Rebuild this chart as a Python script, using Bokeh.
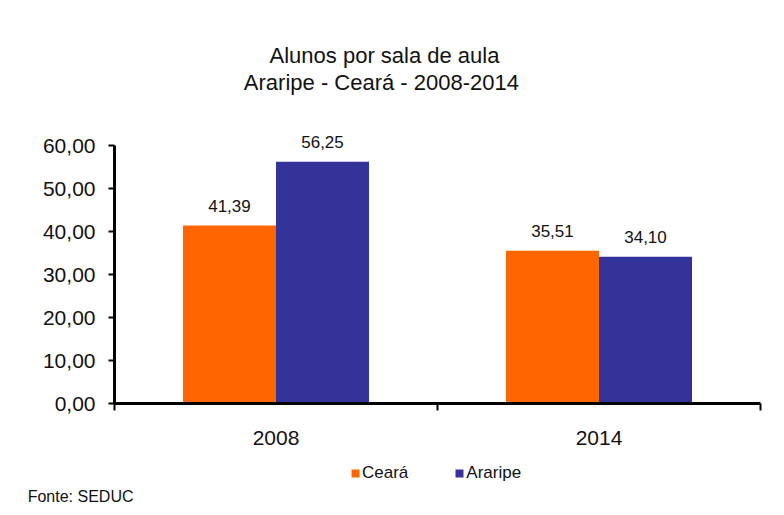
from bokeh.plotting import figure
from bokeh.layouts import column
from bokeh.models import (Range1d, FixedTicker, ColumnDataSource, LinearAxis,
                          LabelSet, Label, Legend, LegendItem)
from bokeh.core.properties import value
from bokeh.transform import dodge
from bokeh.embed import file_html
from bokeh.resources import INLINE

# ---- data ----
years = ["2008", "2014"]
series = ["Ceará", "Araripe"]
ceara = [41.39, 35.51]
araripe = [56.25, 34.10]
colors = ["#FF6600", "#333399"]
y_ticks = [0, 10, 20, 30, 40, 50, 60]
title_lines = ["Alunos por sala de aula", "Araripe  - Ceará - 2008-2014"]
source_note = "Fonte: SEDUC"

FONT = "Liberation Sans"
TXT = "#111111"
W = 784
H1, H2 = 460, 55                    # main chart / footer heights
ML, MR = 114, 24
Y0_PX, Y60_PX = 403, 145            # canvas y of value 0 and 60
YMAX = 60.0
PX_PER_UNIT = (Y0_PX - Y60_PX) / YMAX
YTOP = YMAX + Y60_PX / PX_PER_UNIT  # frame reaches canvas top
MB = H1 - Y0_PX
NCAT = len(years)
FW = W - ML - MR

def ydata(cy):
    return (Y0_PX - cy) / PX_PER_UNIT

def xdata(cx):
    return (cx - ML) * NCAT / FW

fmt = lambda v: f"{v:.2f}".replace(".", ",")

# category slots: category i occupies [i, i+1]
cat_pos = [i + 0.5 for i in range(NCAT)]

p = figure(width=W, height=H1, x_range=Range1d(0, NCAT),
           y_range=Range1d(0, YTOP), min_border_left=ML, min_border_right=MR,
           min_border_top=0, min_border_bottom=MB, toolbar_location=None,
           output_backend="svg")
p.xgrid.visible = False
p.ygrid.visible = False
p.outline_line_color = None
p.background_fill_color = "white"
p.border_fill_color = "white"

src = ColumnDataSource(dict(pos=cat_pos, year=years, ceara=ceara, araripe=araripe,
                            ceara_lbl=[fmt(v) for v in ceara],
                            araripe_lbl=[fmt(v) for v in araripe]))
bw = 0.288
p.vbar(x=dodge("pos", -bw / 2), top="ceara", width=bw, source=src,
       fill_color=colors[0], line_color=None)
p.vbar(x=dodge("pos", bw / 2), top="araripe", width=bw, source=src,
       fill_color=colors[1], line_color=None)

for fld, top, off in (("ceara_lbl", "ceara", -bw / 2), ("araripe_lbl", "araripe", bw / 2)):
    p.add_layout(LabelSet(x=dodge("pos", off), y=top, text=fld, source=src,
                          text_align="center", text_baseline="alphabetic", y_offset=14,
                          text_font=value(FONT), text_font_size=value("17px"),
                          text_color=TXT))

# y axis
ya = p.yaxis[0]
ya.ticker = FixedTicker(ticks=y_ticks, minor_ticks=[])
ya.bounds = (0, YMAX)
ya.major_label_overrides = {t: fmt(t) for t in y_ticks}
ya.axis_line_width = 3
ya.axis_line_color = "black"
ya.major_tick_out = 6
ya.major_tick_in = 0
ya.major_tick_line_width = 2
ya.minor_tick_line_color = None
ya.major_label_standoff = 13
ya.major_label_text_font = FONT
ya.major_label_text_font_size = "21px"
ya.major_label_text_color = TXT

# x axis (category labels centred, ticks at category boundaries)
xa = p.xaxis[0]
xa.ticker = FixedTicker(ticks=cat_pos, minor_ticks=list(range(NCAT + 1)))
xa.major_label_overrides = {pos: y for pos, y in zip(cat_pos, years)}
xa.axis_line_width = 3
xa.axis_line_color = "black"
xa.major_tick_out = 0
xa.major_tick_in = 0
xa.minor_tick_out = 7
xa.minor_tick_in = 0
xa.minor_tick_line_width = 2
xa.minor_tick_line_color = "black"
xa.major_label_standoff = 20
xa.major_label_text_font = FONT
xa.major_label_text_font_size = "21px"
xa.major_label_text_color = TXT

# titles (inside the extended frame)
for t, cy in zip(title_lines, [55, 82]):
    p.add_layout(Label(x=xdata(384), y=ydata(cy), text=t, text_align="center",
                       text_baseline="middle", text_font=FONT, text_font_size="22px",
                       text_color=TXT))

# ---- footer: legend + source note (frame is aligned with the main frame) ----
NOTE_Y = 36
f = figure(width=W, height=H2, x_range=Range1d(0, 1), y_range=Range1d(H2, 0),
           min_border_left=ML, min_border_right=MR, min_border_top=0, min_border_bottom=0,
           toolbar_location=None, output_backend="svg",
           x_axis_location=None, y_axis_location=None)
f.xgrid.visible = False
f.ygrid.visible = False
f.outline_line_color = None
f.background_fill_color = "white"
f.border_fill_color = "white"

# zero-height swatch renderers so the legend can draw its colour keys
swatch = ColumnDataSource(dict(x=[0.0], top=[0.0]))
legend_items = []
for name, col in zip(series, colors):
    r = f.vbar(x="x", top="top", bottom="top", width=0, source=swatch,
               fill_color=col, line_color=None)
    legend_items.append(LegendItem(label=name, renderers=[r]))

legend = Legend(items=legend_items, orientation="horizontal", location=(350 - ML, H2 - 23),
                padding=0, margin=0, spacing=46, glyph_width=10, glyph_height=10,
                label_standoff=2, label_height=20, label_text_font=FONT,
                label_text_font_size="17px", label_text_color=TXT,
                border_line_color=None, background_fill_alpha=0)
f.add_layout(legend, "center")

# source note carried by a bare left axis (sits outside the frame, unclipped)
note_axis = LinearAxis(ticker=FixedTicker(ticks=[NOTE_Y], minor_ticks=[]))
note_axis.major_label_overrides = {NOTE_Y: source_note}
note_axis.axis_line_color = None
note_axis.major_tick_line_color = None
note_axis.minor_tick_line_color = None
note_axis.major_tick_out = 0
note_axis.major_tick_in = 0
note_axis.major_label_standoff = -19
note_axis.major_label_text_font = FONT
note_axis.major_label_text_font_size = "16px"
note_axis.major_label_text_color = TXT
f.add_layout(note_axis, "left")

layout = column(p, f, spacing=0)
open("out.html", "w").write(file_html(layout, INLINE))
